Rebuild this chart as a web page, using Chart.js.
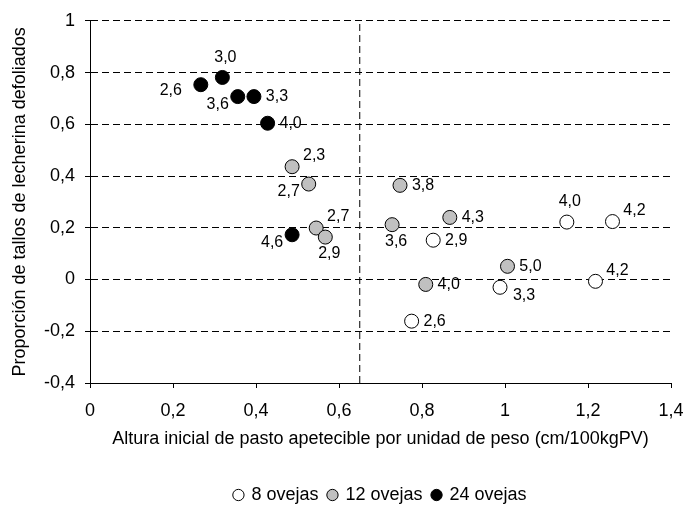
<!DOCTYPE html>
<html>
<head>
<meta charset="utf-8">
<script src="https://cdn.jsdelivr.net/npm/chart.js@4.4.0/dist/chart.umd.min.js"></script>
<style>
    html, body { margin: 0; padding: 0; background: #fff; }
    #wrap { width: 684px; height: 509px; }
</style>
</head>
<body>
<div id="wrap"><canvas id="scatter"></canvas></div>
<script>
    // Data
    var seriesNames = ["8 ovejas", "12 ovejas", "24 ovejas"];

    var ovejas8X = [0.827, 0.775, 0.988, 1.149, 1.259, 1.218];
    var ovejas8Y = [0.152, -0.161, -0.030, 0.222, 0.224, -0.007];
    var ovejas8Lbl = ["2,9", "2,6", "3,3", "4,0", "4,2", "4,2"];

    var ovejas12X = [0.487, 0.527, 0.545, 0.567, 0.747, 0.728, 0.867, 0.809, 1.006];
    var ovejas12Y = [0.436, 0.369, 0.199, 0.164, 0.364, 0.212, 0.240, -0.019, 0.051];
    var ovejas12Lbl = ["2,3", "2,7", "2,7", "2,9", "3,8", "3,6", "4,3", "4,0", "5,0"];

    var ovejas24X = [0.267, 0.319, 0.356, 0.395, 0.428, 0.487];
    var ovejas24Y = [0.753, 0.781, 0.707, 0.707, 0.604, 0.173];
    var ovejas24Lbl = ["2,6", "3,0", "3,6", "3,3", "4,0", "4,6"];

    var cutoffX = 0.65;
    var xTicks = [0, 0.2, 0.4, 0.6, 0.8, 1, 1.2, 1.4];
    var yTicks = [-0.4, -0.2, 0, 0.2, 0.4, 0.6, 0.8, 1];

    // where each point label sits (compass side of the marker)
    var pos8 = ["e", "e", "se", "n", "ne", "ne"];
    var pos12 = ["ne", "sw", "ne", "s", "e", "s", "e", "e", "e"];
    var pos24 = ["w", "n", "sw", "e", "e", "sw"];

    var labelOffset = {
        e:  [23, 0],
        w:  [-30, 6],
        n:  [3, -20],
        s:  [4, 17],
        ne: [22, -11],
        se: [24, 8],
        sw: [-20, 8]
    };

    function pts(xs, ys) {
        return xs.map(function (x, i) { return {x: x, y: ys[i]}; });
    }

    function comma(v) {
        return (Math.round(v * 10) / 10).toString().replace('.', ',');
    }

    // Point labels
    var pointLabels = {
        id: 'pointLabels',
        afterDatasetsDraw: function (chart) {
            var ctx = chart.ctx;
            ctx.save();
            ctx.font = '16px "Liberation Sans", Arial, sans-serif';
            ctx.fillStyle = '#000';
            ctx.textAlign = 'center';
            ctx.textBaseline = 'middle';
            chart.data.datasets.forEach(function (ds, di) {
                if (!ds.pointText) return;
                chart.getDatasetMeta(di).data.forEach(function (el, i) {
                    var off = labelOffset[ds.pointPos[i]];
                    ctx.fillText(ds.pointText[i], el.x + off[0], el.y + off[1]);
                });
            });
            ctx.restore();
        }
    };

    Chart.defaults.font.family = '"Liberation Sans", Arial, sans-serif';
    Chart.defaults.font.size = 18;
    Chart.defaults.color = "#000";

    var ctx = document.getElementById("scatter").getContext("2d");
    var myChart = new Chart(ctx, {
        type: "scatter",
        data: {
            datasets: [{
                    label: seriesNames[0],
                    data: pts(ovejas8X, ovejas8Y),
                    backgroundColor: "#ffffff",
                    borderColor: "#000",
                    borderWidth: 1,
                    pointRadius: 7,
                    pointText: ovejas8Lbl,
                    pointPos: pos8
                },
                {
                    label: seriesNames[1],
                    data: pts(ovejas12X, ovejas12Y),
                    backgroundColor: "#c0c0c0",
                    borderColor: "#000",
                    borderWidth: 1,
                    pointRadius: 7,
                    pointText: ovejas12Lbl,
                    pointPos: pos12
                },
                {
                    label: seriesNames[2],
                    data: pts(ovejas24X, ovejas24Y),
                    backgroundColor: "#000",
                    borderColor: "#000",
                    borderWidth: 1,
                    pointRadius: 7,
                    pointText: ovejas24Lbl,
                    pointPos: pos24
                },
                {
                    label: "cutoff",
                    type: "line",
                    data: [{x: cutoffX, y: yTicks[0]}, {x: cutoffX, y: yTicks[yTicks.length - 1]}],
                    borderColor: "#000",
                    borderWidth: 1,
                    borderDash: [7, 4],
                    pointRadius: 0,
                    fill: false
                }
            ]
        },
        options: {
            responsive: true,
            maintainAspectRatio: false,
            animation: false,
            layout: {
                padding: {top: 19, right: 13, left: 0, bottom: -5}
            },
            plugins: {
                tooltip: {enabled: false},
                legend: {
                    position: 'bottom',
                    fullSize: false,
                    labels: {
                        usePointStyle: true,
                        pointStyle: 'circle',
                        boxWidth: 8,
                        boxHeight: 8,
                        padding: 10,
                        font: {size: 18},
                        filter: function (item) { return item.datasetIndex < 3; }
                    }
                }
            },
            scales: {
                x: {
                    type: 'linear',
                    min: xTicks[0],
                    max: xTicks[xTicks.length - 1],
                    afterBuildTicks: function (scale) {
                        scale.ticks = xTicks.map(function (v) { return {value: v}; });
                    },
                    afterFit: function (scale) {
                        scale.height = 93;
                        scale.paddingLeft = 0;
                        scale.paddingRight = 13;
                    },
                    ticks: {
                        callback: comma,
                        maxRotation: 0,
                        padding: 12,
                        font: {size: 18}
                    },
                    grid: {
                        drawOnChartArea: false,
                        drawTicks: true,
                        tickLength: 5,
                        tickColor: "#000"
                    },
                    border: {color: "#000", width: 1},
                    title: {
                        display: true,
                        text: "Altura inicial de pasto apetecible por unidad de peso (cm/100kgPV)",
                        font: {size: 18},
                        padding: {top: 0, bottom: 26}
                    }
                },
                y: {
                    type: 'linear',
                    min: yTicks[0],
                    max: yTicks[yTicks.length - 1],
                    afterBuildTicks: function (scale) {
                        scale.ticks = yTicks.map(function (v) { return {value: v}; });
                    },
                    afterFit: function (scale) { scale.width = 90; },
                    ticks: {
                        callback: comma,
                        padding: 10,
                        font: {size: 18}
                    },
                    grid: {
                        color: function (c) { return c.tick && c.tick.value === yTicks[0] ? 'rgba(0,0,0,0)' : '#000'; },
                        tickBorderDash: [],
                        tickColor: "#000",
                        tickLength: 5,
                        lineWidth: 1
                    },
                    border: {color: "#000", width: 1, dash: [7, 4]},
                    title: {
                        display: true,
                        text: "Proporción de tallos de lecherina defoliados",
                        font: {size: 18},
                        padding: {top: 9, bottom: 0}
                    }
                }
            }
        },
        plugins: [pointLabels]
    });
</script>
</body>
</html>
